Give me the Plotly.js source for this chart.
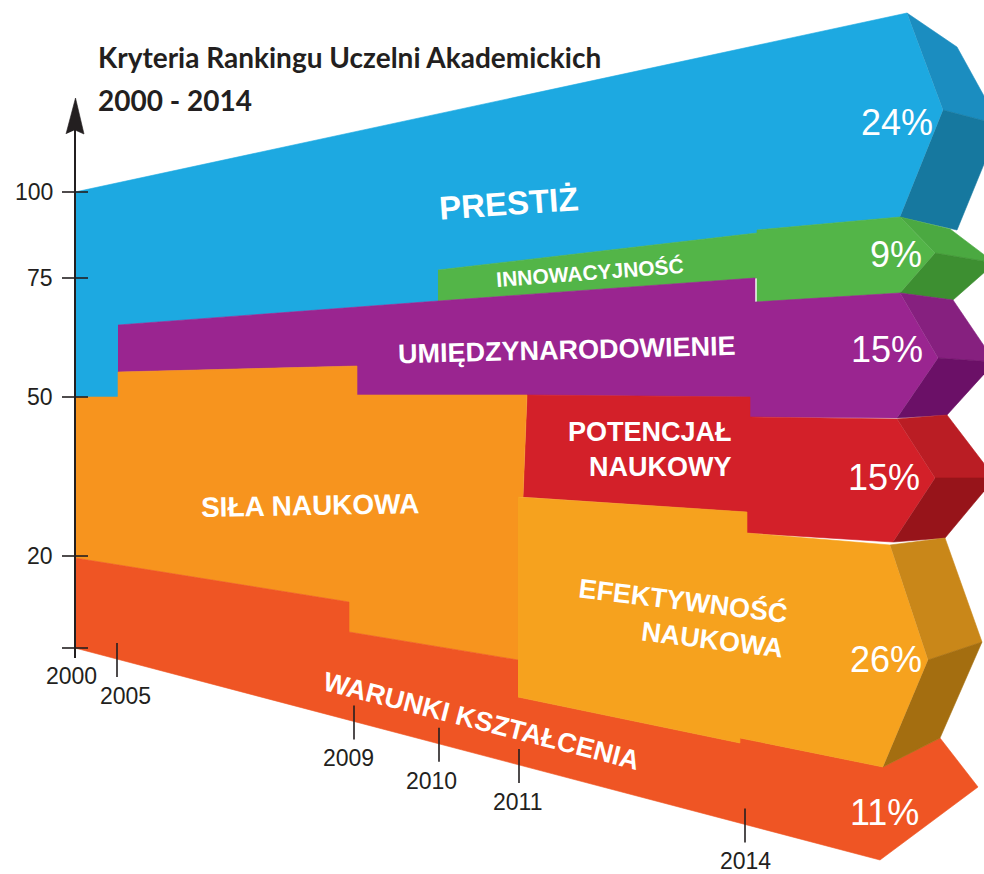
<!DOCTYPE html>
<html>
<head>
<meta charset="utf-8">
<script src="https://cdn.plot.ly/plotly-3.0.1.min.js"></script>
<style>html,body{margin:0;padding:0;background:#fff;}#chart{width:984px;height:874px;}</style>
</head>
<body>
<div id="chart"></div>
<script>
// ---------- text / values ----------
const titleLines = ['Kryteria Rankingu Uczelni Akademickich', '2000 - 2014'];
const categories = ['PRESTIŻ', 'INNOWACYJNOŚĆ', 'UMIĘDZYNARODOWIENIE', 'POTENCJAŁ<br>NAUKOWY', 'SIŁA NAUKOWA', 'EFEKTYWNOŚĆ<br>NAUKOWA', 'WARUNKI KSZTAŁCENIA'];
const share2014 = [24, 9, 15, 15, null, 26, 11];
const years = ['2000', '2005', '2009', '2010', '2011', '2014'];
const yearX = [75, 117, 354, 439, 519, 745];          // timeline position of each year
const levelLabels = ['100', '75', '50', '20'];
const levelY = [192, 278, 397, 556];                   // level position of each label

// ---------- band outlines (timeline x, level y) ----------
const prestizX = [75, 907, 943, 900, 757, 757, 438, 438, 118, 118, 75];
const prestizY = [192, 13, 110, 217, 230, 233, 270, 301, 325, 397, 397];
const prestizTopX = [907, 957, 1000, 943], prestizTopY = [13, 47, 125, 110];
const prestizLowX = [943, 1000, 957, 900], prestizLowY = [110, 125, 230, 217];

const innowX = [438, 757, 757, 900, 935, 900, 757, 757, 438];
const innowY = [270, 233, 230, 217, 253, 293, 302, 278, 301];
const innowTopX = [900, 950, 995, 935], innowTopY = [217, 229, 263, 253];
const innowLowX = [935, 995, 953, 900], innowLowY = [253, 263, 300, 293];

const umiedzX = [118, 438, 755, 755, 900, 938, 897, 750, 750, 527, 357, 357, 118];
const umiedzY = [325, 301, 278, 302, 293, 358, 418, 417, 397, 395, 395, 366, 372];
const umiedzTopX = [900, 953, 995, 938], umiedzTopY = [293, 300, 362, 358];
const umiedzLowX = [938, 995, 947, 897], umiedzLowY = [358, 362, 415, 418];

const potencjalX = [527, 750, 750, 897, 935, 893, 747, 747, 523];
const potencjalY = [395, 397, 417, 419, 478, 542, 533, 512, 497];
const potencjalTopX = [897, 947, 995, 935], potencjalTopY = [419, 415, 478, 478];
const potencjalLowX = [935, 995, 945, 893], potencjalLowY = [478, 478, 538, 542];

const silaX = [75, 118, 118, 357, 357, 527, 523, 518, 518, 349, 349, 75];
const silaY = [397, 397, 372, 366, 395, 395, 497, 497, 660, 632, 602, 558];

const efektX = [518, 747, 747, 890, 928, 883, 740, 740, 518];
const efektY = [497, 512, 533, 545, 660, 767, 738, 743, 697];
const efektTopX = [890, 945, 982, 928], efektTopY = [545, 538, 642, 660];
const efektLowX = [928, 982, 940, 883], efektLowY = [660, 642, 738, 767];

const warunkiX = [75, 349, 349, 518, 518, 740, 740, 883, 940, 978, 880, 75];
const warunkiY = [558, 602, 632, 660, 697, 743, 738, 767, 738, 787, 860, 648];

// ---------- styles ----------
const C = {
  blue: '#1DA9E1', blueTop: '#1B8DC0', blueLow: '#16789F',
  green: '#53B548', greenTop: '#4BA941', greenLow: '#3D8F31',
  purple: '#9A2590', purpleTop: '#86207F', purpleLow: '#6B1067',
  red: '#D32029', redTop: '#BA1D24', redLow: '#97141A',
  orange: '#F7941E',
  yellow: '#F6A21E', yellowTop: '#C98719', yellowLow: '#A46E10',
  warunki: '#EF5524',
  ink: '#231F20'
};

function poly(x, y, color) {
  return {type: 'scatter', mode: 'lines', x: x, y: y, fill: 'toself', fillcolor: color,
          line: {color: color, width: 0.6}, hoverinfo: 'skip', showlegend: false};
}

const traces = [
  poly(prestizX, prestizY, C.blue), poly(prestizTopX, prestizTopY, C.blueTop), poly(prestizLowX, prestizLowY, C.blueLow),
  poly(innowX, innowY, C.green), poly(innowTopX, innowTopY, C.greenTop), poly(innowLowX, innowLowY, C.greenLow),
  poly(umiedzX, umiedzY, C.purple), poly(umiedzTopX, umiedzTopY, C.purpleTop), poly(umiedzLowX, umiedzLowY, C.purpleLow),
  poly(potencjalX, potencjalY, C.red), poly(potencjalTopX, potencjalTopY, C.redTop), poly(potencjalLowX, potencjalLowY, C.redLow),
  poly(silaX, silaY, C.orange),
  poly(warunkiX, warunkiY, C.warunki),
  poly(efektX, efektY, C.yellow), poly(efektTopX, efektTopY, C.yellowTop), poly(efektLowX, efektLowY, C.yellowLow)
];

// ---------- axes ----------
const axisX = warunkiX[0];
const baseY = warunkiY[warunkiY.length - 1];
const axisTop = 100;
// vertical axis line
traces.push({type: 'scatter', mode: 'lines', x: [axisX, axisX], y: [axisTop + 30, baseY + 10],
             line: {color: C.ink, width: 2}, hoverinfo: 'skip', showlegend: false});
// arrow head
traces.push(poly([axisX - 9, axisX + 0.5, axisX + 9, axisX], [axisTop + 34, axisTop - 2, axisTop + 34, axisTop + 30], C.ink));
// level ticks (incl. baseline)
const tX = [], tY = [];
levelY.concat([baseY]).forEach(v => { tX.push(axisX - 13, axisX + 13, null); tY.push(v, v, null); });
traces.push({type: 'scatter', mode: 'lines', x: tX, y: tY, line: {color: C.ink, width: 1.6}, hoverinfo: 'skip', showlegend: false});

// year ticks along the lower edge of the bottom band
const edgeX0 = warunkiX[warunkiX.length - 1], edgeY0 = warunkiY[warunkiY.length - 1];
const edgeX1 = warunkiX[warunkiX.length - 2], edgeY1 = warunkiY[warunkiY.length - 2];
function edgeAt(x) { return edgeY0 + (edgeY1 - edgeY0) * (x - edgeX0) / (edgeX1 - edgeX0); }
const yX = [], yY = [];
yearX.forEach((x, i) => { if (i > 0) { const e = edgeAt(x); yX.push(x, x, null); yY.push(e - 16, e + 18, null); } });
traces.push({type: 'scatter', mode: 'lines', x: yX, y: yY, line: {color: C.ink, width: 1.6}, hoverinfo: 'skip', showlegend: false});

// ---------- annotations ----------
const ann = [];
const tickFont = {family: 'Liberation Sans, Arial, sans-serif', size: 23, color: C.ink};
levelLabels.forEach((l, i) => ann.push({x: 55, y: levelY[i], text: l, showarrow: false, xanchor: 'right', yanchor: 'middle', font: tickFont}));
const yearDx = [-4, 8, -6, -8, -2, 0];
years.forEach((yr, i) => {
  const e = i === 0 ? baseY : edgeAt(yearX[i]);
  ann.push({x: yearX[i] + yearDx[i], y: e + (i === 0 ? 28 : 37), text: yr, showarrow: false, xanchor: 'center', yanchor: 'middle', font: tickFont});
});

// title
const titleFont = {family: 'Lato, Open Sans, sans-serif', size: 28, color: C.ink, weight: 'bold'};
ann.push({x: 96, y: 57, text: titleLines[0], showarrow: false, xanchor: 'left', yanchor: 'middle', font: titleFont});
ann.push({x: 96, y: 100, text: titleLines[1], showarrow: false, xanchor: 'left', yanchor: 'middle', font: titleFont});

// band labels
const labFont = s => ({family: 'Liberation Sans, Arial, sans-serif', size: s, color: '#FFFFFF', weight: 'bold'});
const bandLabel = [
  {t: categories[0], x: 508, y: 203, s: 33, a: -4},
  {t: categories[1], x: 590, y: 272, s: 21, a: -4.3},
  {t: categories[2], x: 567, y: 350, s: 27, a: -1.4},
  {t: categories[3], x: 650, y: 449, s: 27, a: 0, al: 'right'},
  {t: categories[4], x: 310, y: 505, s: 28, a: -1},
  {t: categories[5], x: 681, y: 618, s: 27, a: 7, al: 'right'},
  {t: categories[6], x: 481, y: 721, s: 27, a: 14.3}
];
bandLabel.forEach(b => ann.push({x: b.x, y: b.y, text: b.t, showarrow: false, xanchor: 'center', yanchor: 'middle',
  textangle: b.a, align: b.al || 'center', font: labFont(b.s)}));

// 2014 shares
const pctPos = [[897, 122], [896, 254], [887, 349], [884, 477], null, [886, 659], [884, 812]];
share2014.forEach((v, i) => {
  if (v === null) return;
  ann.push({x: pctPos[i][0], y: pctPos[i][1], text: v + '%', showarrow: false, xanchor: 'center', yanchor: 'middle',
    font: {family: 'Liberation Sans, Arial, sans-serif', size: 36, color: '#FFFFFF'}});
});

const layout = {
  width: 984, height: 874,
  margin: {l: 0, r: 0, t: 0, b: 0},
  paper_bgcolor: '#FFFFFF', plot_bgcolor: '#FFFFFF',
  xaxis: {range: [0, 984], visible: false, fixedrange: true},
  yaxis: {range: [874, 0], visible: false, fixedrange: true},
  showlegend: false,
  annotations: ann
};

Plotly.newPlot('chart', traces, layout, {staticPlot: true, displayModeBar: false});
</script>
</body>
</html>
